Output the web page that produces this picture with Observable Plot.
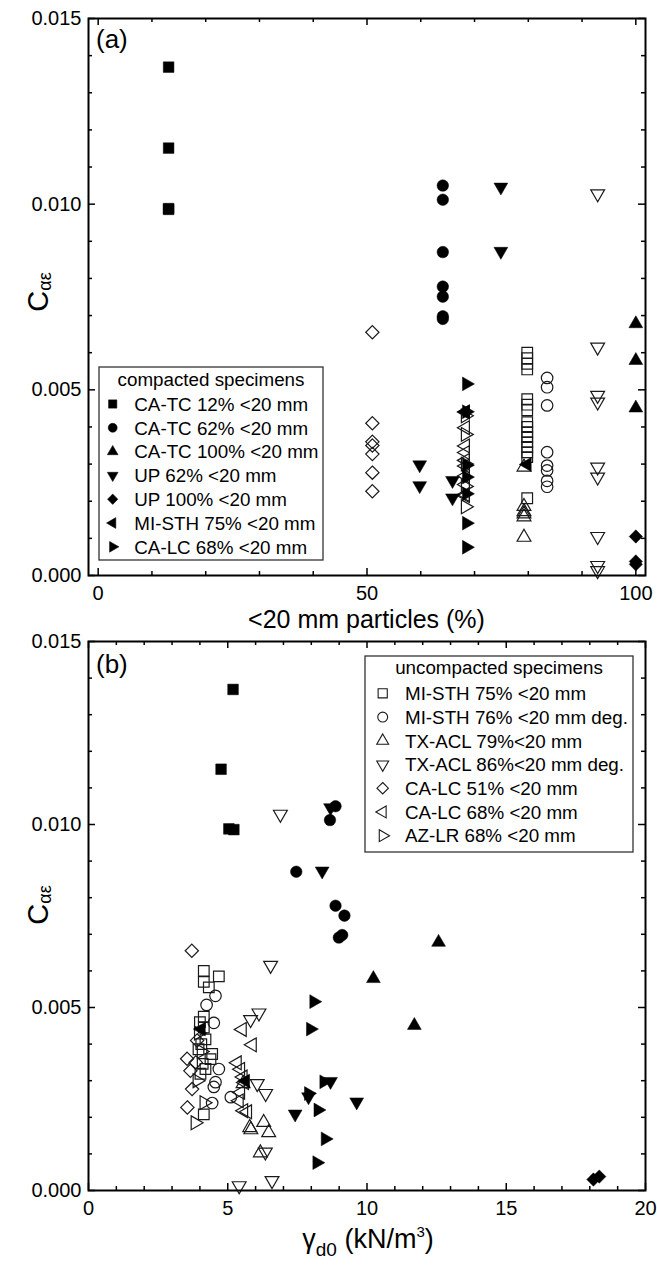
<!DOCTYPE html>
<html>
<head>
<meta charset="utf-8">
<script src="https://cdn.jsdelivr.net/npm/d3@7"></script>
<script src="https://cdn.jsdelivr.net/npm/@observablehq/plot@0.6"></script>
<style>
  body { margin: 0; background: #fff; }
  #chart { position: relative; width: 657px; height: 1268px; background: #fff; }
  #chart svg { position: absolute; left: 0; overflow: visible; }
</style>
</head>
<body>
<div id="chart"></div>
<script>
// ---------------- DATA ----------------
// Compacted specimens (filled symbols)
const caTc12Pct = [13.1, 13.1, 13.1, 13.1];
const caTc12Gam = [5.19, 4.76, 5.04, 5.22];
const caTc12Cae = [0.01369, 0.01151, 0.00988, 0.00986];

const caTc62Pct = [64.1, 64.1, 64.1, 64.1, 64.1, 64.1, 64.1];
const caTc62Gam = [8.87, 8.67, 7.46, 8.87, 9.19, 9.11, 8.99];
const caTc62Cae = [0.01050, 0.01012, 0.00871, 0.00778, 0.00751, 0.00698, 0.00691];

const caTc100Pct = [100, 100, 100];
const caTc100Gam = [12.57, 10.23, 11.7];
const caTc100Cae = [0.00678, 0.00579, 0.00451];

const up62Pct = [74.9, 74.9, 59.8, 59.8, 65.9, 65.9];
const up62Gam = [8.69, 8.39, 8.69, 9.63, 7.9, 7.42];
const up62Cae = [0.01046, 0.00873, 0.00298, 0.00242, 0.00256, 0.00209];

const up100Pct = [100, 100, 100];
const up100Gam = [null, 18.13, 18.34];
const up100Cae = [0.00105, 0.00030, 0.00038];

const miSth75cPct = [68.3, 79.8];
const miSth75cGam = [4.05, 5.64];
const miSth75cCae = [0.00441, 0.00299];

const caLc68cPct = [68.5, 68.5, 68.5, 68.5, 68.5, 68.5, 68.5];
const caLc68cGam = [8.09, 7.97, 8.45, 7.9, 8.24, 8.5, 8.2];
const caLc68cCae = [0.00516, 0.00441, 0.00297, 0.00265, 0.00220, 0.00141, 0.00076];

// Uncompacted specimens (open symbols)
const miSth75Pct = [79.8, 79.8, 79.8, 79.8, 79.8, 79.8, 79.8, 79.8, 79.8, 79.8, 79.8, 79.8, 79.8, 79.8, 79.8, 79.8];
const miSth75Gam = [4.14, 4.68, 4.14, 4.32, 4.14, 4.0, 4.14, 4.2, 4.05, 3.95, 4.44, 4.38, 4.1, 4.2, 4.02, 4.14];
const miSth75Cae = [0.00600, 0.00585, 0.00570, 0.00555, 0.00475, 0.00460, 0.00445, 0.00413, 0.00400, 0.00386, 0.00373, 0.00359, 0.00346, 0.00332, 0.00319, 0.00208];

const miSth76Pct = [83.5, 83.5, 83.5, 83.5, 83.5, 83.5, 83.5, 83.5];
const miSth76Gam = [4.56, 4.24, 4.5, 4.68, 4.56, 4.5, 5.11, 4.44];
const miSth76Cae = [0.00532, 0.00507, 0.00458, 0.00332, 0.00296, 0.00283, 0.00255, 0.00239];

const txAcl79Pct = [79.2, 79.2, 79.2, 79.2, 79.2, 79.2];
const txAcl79Gam = [5.55, 6.29, 5.79, 5.83, 6.47, 6.17];
const txAcl79Cae = [0.00292, 0.00186, 0.00172, 0.00166, 0.00158, 0.00103];

const txAcl86Pct = [92.9, 92.9, 92.9, 92.9, 92.9, 92.9, 92.9, 92.9, 92.9];
const txAcl86Gam = [6.89, 6.54, 6.12, 5.82, 6.06, 6.36, 6.35, 6.59, 5.41];
const txAcl86Cae = [0.01028, 0.00615, 0.00485, 0.00467, 0.00292, 0.00265, 0.00105, 0.00027, 0.00013];

const caLc51Pct = [51, 51, 51, 51, 51, 51, 51];
const caLc51Gam = [3.71, 3.9, 3.54, 3.85, 3.66, 3.72, 3.55];
const caLc51Cae = [0.00655, 0.00410, 0.00360, 0.00350, 0.00327, 0.00277, 0.00227];

const caLc68Pct = [68.3, 68.3, 68.3, 68.3, 68.3, 68.3, 68.3, 68.3, 68.3, 68.3];
const caLc68Gam = [5.52, 5.88, 5.34, 5.46, 5.55, 5.6, 5.46, 5.41, 5.57, 5.71];
const caLc68Cae = [0.00440, 0.00398, 0.00349, 0.00331, 0.00310, 0.00295, 0.00268, 0.00245, 0.00218, 0.00215];

const azLr68Pct = [68.3, 68.3, 68.3, 68.3, 68.3];
const azLr68Gam = [3.95, 4.05, 3.9, 4.15, 3.83];
const azLr68Cae = [0.00430, 0.00380, 0.00300, 0.00240, 0.00185];

// Ticks and labels
const yMajor = [0, 0.005, 0.010, 0.015];
const yMinor = [0.001, 0.002, 0.003, 0.004, 0.006, 0.007, 0.008, 0.009, 0.011, 0.012, 0.013, 0.014];
const xMajorA = [0, 50, 100];
const xMinorA = [10, 20, 30, 40, 60, 70, 80, 90];
const xMajorB = [0, 5, 10, 15, 20];
const xMinorB = [1, 2, 3, 4, 6, 7, 8, 9, 11, 12, 13, 14, 16, 17, 18, 19];

const titleA = "<20 mm particles (%)";
const legendTitleA = "compacted specimens";
const legendTitleB = "uncompacted specimens";

// ---------------- SYMBOLS ----------------
function tri(angleDeg) {
  return {draw(c, size) {
    const R = Math.sqrt(size) * 0.9;
    for (let k = 0; k < 3; k++) {
      const a = (angleDeg + 120 * k) * Math.PI / 180;
      const x = R * Math.cos(a), y = R * Math.sin(a);
      if (k) c.lineTo(x, y); else c.moveTo(x, y);
    }
    c.closePath();
  }};
}
const SYM = {
  square: {draw(c, size) { const s = Math.sqrt(size) * 0.6; c.rect(-s, -s, 2 * s, 2 * s); }},
  circle: {draw(c, size) { const r = Math.sqrt(size) * 0.65; c.moveTo(r, 0); c.arc(0, 0, r, 0, 2 * Math.PI); }},
  diamond: {draw(c, size) { const s = Math.sqrt(size) * 0.75; c.moveTo(0, -s); c.lineTo(s, 0); c.lineTo(0, s); c.lineTo(-s, 0); c.closePath(); }},
  up: tri(-90), down: tri(90), left: tri(180), right: tri(0)
};

const compacted = [
  {name: "CA-TC 12% <20 mm", sym: "square", pct: caTc12Pct, gam: caTc12Gam, cae: caTc12Cae},
  {name: "CA-TC 62% <20 mm", sym: "circle", pct: caTc62Pct, gam: caTc62Gam, cae: caTc62Cae},
  {name: "CA-TC 100% <20 mm", sym: "up", pct: caTc100Pct, gam: caTc100Gam, cae: caTc100Cae},
  {name: "UP 62% <20 mm", sym: "down", pct: up62Pct, gam: up62Gam, cae: up62Cae},
  {name: "UP 100% <20 mm", sym: "diamond", pct: up100Pct, gam: up100Gam, cae: up100Cae},
  {name: "MI-STH 75% <20 mm", sym: "left", pct: miSth75cPct, gam: miSth75cGam, cae: miSth75cCae},
  {name: "CA-LC 68% <20 mm", sym: "right", pct: caLc68cPct, gam: caLc68cGam, cae: caLc68cCae}
];
const uncompacted = [
  {name: "MI-STH 75% <20 mm", sym: "square", pct: miSth75Pct, gam: miSth75Gam, cae: miSth75Cae},
  {name: "MI-STH 76% <20 mm deg.", sym: "circle", pct: miSth76Pct, gam: miSth76Gam, cae: miSth76Cae},
  {name: "TX-ACL 79%<20 mm", sym: "up", pct: txAcl79Pct, gam: txAcl79Gam, cae: txAcl79Cae},
  {name: "TX-ACL 86%<20 mm deg.", sym: "down", pct: txAcl86Pct, gam: txAcl86Gam, cae: txAcl86Cae},
  {name: "CA-LC 51% <20 mm", sym: "diamond", pct: caLc51Pct, gam: caLc51Gam, cae: caLc51Cae},
  {name: "CA-LC 68% <20 mm", sym: "left", pct: caLc68Pct, gam: caLc68Gam, cae: caLc68Cae},
  {name: "AZ-LR 68% <20 mm", sym: "right", pct: azLr68Pct, gam: azLr68Gam, cae: azLr68Cae}
];

function rows(s) { return s.cae.map((v, i) => ({v, pct: s.pct[i], gam: s.gam[i]})); }

const FONT = '"Liberation Sans", Arial, Helvetica, sans-serif';
const W = 657;
const ML = 88, MR = 12;

function dotMarks(xKey, filterNull) {
  const marks = [];
  for (const s of uncompacted) {
    let d = rows(s); if (filterNull) d = d.filter(r => r[xKey] != null);
    marks.push(Plot.dot(d, {x: xKey, y: "v", symbol: SYM[s.sym], r: 5, fill: "none", stroke: "#1a1a1a", strokeWidth: 1.2}));
  }
  for (const s of compacted) {
    let d = rows(s); if (filterNull) d = d.filter(r => r[xKey] != null);
    marks.push(Plot.dot(d, {x: xKey, y: "v", symbol: SYM[s.sym], r: 5, fill: "black", stroke: "black", strokeWidth: 0.5}));
  }
  return marks;
}

function tickMarks(xMajor, xMinor, plotW, plotH) {
  const Lmaj = 7, Lmin = 4, sw = 1.5;
  return [
    Plot.tickX(xMajor, {x: d => d, insetTop: plotH - Lmaj, stroke: "black", strokeWidth: sw}),
    Plot.tickX(xMinor, {x: d => d, insetTop: plotH - Lmin, stroke: "black", strokeWidth: sw}),
    Plot.tickX(xMajor, {x: d => d, insetBottom: plotH - Lmaj, stroke: "black", strokeWidth: sw}),
    Plot.tickX(xMinor, {x: d => d, insetBottom: plotH - Lmin, stroke: "black", strokeWidth: sw}),
    Plot.tickY(yMajor, {y: d => d, insetRight: plotW - Lmaj, stroke: "black", strokeWidth: sw}),
    Plot.tickY(yMinor, {y: d => d, insetRight: plotW - Lmin, stroke: "black", strokeWidth: sw}),
    Plot.tickY(yMajor, {y: d => d, insetLeft: plotW - Lmaj, stroke: "black", strokeWidth: sw}),
    Plot.tickY(yMinor, {y: d => d, insetLeft: plotW - Lmin, stroke: "black", strokeWidth: sw})
  ];
}

function axes(xMajor) {
  return [
    Plot.axisY(yMajor, {tickSize: 0, tickPadding: 7, tickFormat: d3.format(".3f"), fontSize: 20, label: null, fill: "black"}),
    Plot.axisX(xMajor, {tickSize: 0, tickPadding: 10, tickFormat: d => String(d), fontSize: 20, label: null, fill: "black"})
  ];
}

const chart = document.getElementById("chart");

// ---------- Panel A ----------
const hA = 636, mtA = 18, mbA = 61;
const pWA = W - ML - MR, pHA = hA - mtA - mbA;
const svgA = Plot.plot({
  width: W, height: hA, marginLeft: ML, marginRight: MR, marginTop: mtA, marginBottom: mbA,
  style: {fontFamily: FONT, overflow: "visible", background: "transparent", color: "black"},
  x: {domain: [-1.8, 101.8], axis: null},
  y: {domain: [0, 0.015], axis: null},
  marks: [
    ...dotMarks("pct", false),
    ...tickMarks(xMajorA, xMinorA, pWA, pHA),
    ...axes(xMajorA),
    Plot.frame({stroke: "black", strokeWidth: 2})
  ]
});
svgA.style.top = "0px";
chart.appendChild(svgA);

// ---------- Panel B ----------
const topB = 636, hB = 632, mtB = 5, mbB = 78;
const pWB = W - ML - MR, pHB = hB - mtB - mbB;
const svgB = Plot.plot({
  width: W, height: hB, marginLeft: ML, marginRight: MR, marginTop: mtB, marginBottom: mbB,
  style: {fontFamily: FONT, overflow: "visible", background: "transparent", color: "black"},
  x: {domain: [0, 20], axis: null},
  y: {domain: [0, 0.015], axis: null},
  marks: [
    ...dotMarks("gam", true),
    ...tickMarks(xMajorB, xMinorB, pWB, pHB),
    ...axes(xMajorB),
    Plot.frame({stroke: "black", strokeWidth: 2})
  ]
});
svgB.style.top = topB + "px";
chart.appendChild(svgB);

// ---------- Annotations ----------
function yTitle(svg, cy) {
  const t = d3.select(svg).append("text")
    .attr("transform", `translate(48,${cy}) rotate(-90)`)
    .attr("text-anchor", "middle").attr("font-family", FONT).attr("fill", "black");
  t.append("tspan").attr("font-size", 29).text("C");
  t.append("tspan").attr("font-size", 18).attr("dy", 3).text("αε");
}
function panelLabel(svg, txt, y) {
  d3.select(svg).append("text").attr("x", 96).attr("y", y).attr("text-anchor", "start")
    .attr("font-family", FONT).attr("font-size", 26).attr("fill", "black").text(txt);
}
function legend(svg, box, title, list, filled, topOff, r) {
  const g = d3.select(svg).append("g").attr("font-family", FONT).attr("fill", "black");
  g.append("rect").attr("x", box.x).attr("y", box.y - topOff).attr("width", box.w).attr("height", box.h)
    .attr("fill", "white").attr("stroke", "#333").attr("stroke-width", 1.3);
  g.append("text").attr("x", box.x + box.w / 2).attr("y", box.titleBase - topOff)
    .attr("text-anchor", "middle").attr("font-size", 18.8).text(title);
  const size = Math.PI * r * r;
  list.forEach((s, i) => {
    const cy = box.first + box.step * i - topOff;
    g.append("path").attr("d", d3.symbol(SYM[s.sym], size)())
      .attr("transform", `translate(${box.mx},${cy})`)
      .attr("fill", filled ? "black" : "none").attr("stroke", filled ? "black" : "#1a1a1a")
      .attr("stroke-width", filled ? 0.5 : 1.1);
    g.append("text").attr("x", box.tx).attr("y", cy + 6.8).attr("text-anchor", "start")
      .attr("font-size", 18.8).text(s.name);
  });
}

// Panel A texts
yTitle(svgA, 292);
panelLabel(svgA, "(a)", 48);
d3.select(svgA).append("text").attr("x", 366.5).attr("y", 628).attr("text-anchor", "middle")
  .attr("font-family", FONT).attr("font-size", 25).attr("fill", "black").text(titleA);
legend(svgA, {x: 99, y: 367, w: 224, h: 193, titleBase: 385.5, first: 404, step: 23.8, mx: 112.7, tx: 134.3},
  legendTitleA, compacted, true, 0, 3.9);

// Panel B texts
yTitle(svgB, 905 - topB);
panelLabel(svgB, "(b)", 673 - topB);
{
  const t = d3.select(svgB).append("text").attr("x", 368).attr("y", 1248 - topB).attr("text-anchor", "middle")
    .attr("font-family", FONT).attr("fill", "black").attr("font-size", 27);
  t.append("tspan").text("γ");
  t.append("tspan").attr("font-size", 19).attr("dy", 8).text("d0");
  t.append("tspan").attr("font-size", 27).attr("dy", -8).text(" (kN/m");
  t.append("tspan").attr("font-size", 15).attr("dy", -11).text("3");
  t.append("tspan").attr("font-size", 27).attr("dy", 11).text(")");
}
legend(svgB, {x: 365, y: 656, w: 268, h: 196, titleBase: 674, first: 693.3, step: 23.73, mx: 382.7, tx: 405},
  legendTitleB, uncompacted, false, topB, 4.3);
</script>
</body>
</html>
